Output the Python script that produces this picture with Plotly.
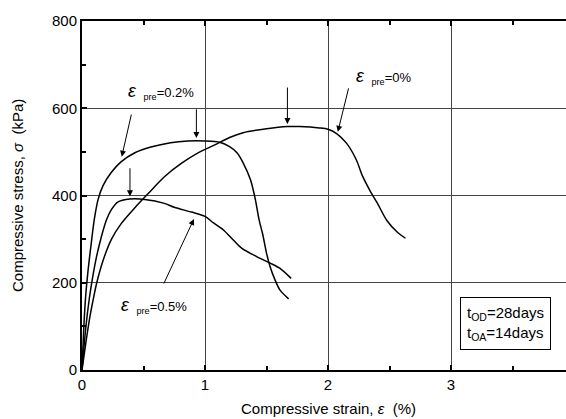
import plotly.graph_objects as go

# Stress-strain curves (strain in %, stress in kPa) for three pre-strain levels
strain_pre0 = [0, 0.03, 0.06, 0.09, 0.12, 0.17, 0.24, 0.32, 0.43, 0.54, 0.67, 0.81, 0.94,
               1.08, 1.20, 1.31, 1.50, 1.67, 1.77, 1.93, 2.0, 2.07, 2.15, 2.23, 2.28, 2.34,
               2.40, 2.48, 2.56, 2.63]
stress_pre0 = [0, 60, 115, 160, 200, 250, 300, 336, 372, 405, 443, 474, 497,
               516, 533, 544, 553, 558, 558, 555, 552, 542, 520, 482, 445, 412,
               383, 342, 317, 302]

strain_pre02 = [0, 0.015, 0.03, 0.05, 0.075, 0.10, 0.13, 0.17, 0.236, 0.317, 0.43, 0.56,
                0.72, 0.86, 1.0, 1.12, 1.20, 1.26, 1.31, 1.37, 1.41, 1.44, 1.47, 1.50,
                1.53, 1.57, 1.61, 1.68]
stress_pre02 = [0, 100, 170, 230, 290, 345, 390, 422, 452, 477, 498, 511,
                521, 525, 525, 522, 512, 498, 475, 436, 390, 344, 310, 268,
                236, 206, 183, 163]

strain_pre05 = [0, 0.03, 0.06, 0.085, 0.12, 0.157, 0.20, 0.24, 0.29, 0.39, 0.51, 0.67,
                0.75, 0.89, 1.0, 1.07, 1.15, 1.23, 1.30, 1.42, 1.53, 1.61, 1.70]
stress_pre05 = [0, 95, 165, 210, 262, 305, 345, 368, 385, 392, 391, 382,
                373, 362, 352, 337, 321, 298, 279, 260, 245, 233, 210]

x_ticks = [0, 1, 2, 3]
y_ticks = [0, 200, 400, 600, 800]

FONT = "Arial, Liberation Sans, sans-serif"

fig = go.Figure()
for xs, ys in [(strain_pre0, stress_pre0), (strain_pre02, stress_pre02), (strain_pre05, stress_pre05)]:
    fig.add_trace(go.Scatter(x=xs, y=ys, mode="lines",
                             line=dict(color="black", width=1.5, shape="spline", smoothing=0.8),
                             hoverinfo="skip", showlegend=False))

ann = []

def label(x, y, pre_text):
    ann.append(dict(x=x, y=y, xref="x", yref="y", xanchor="left", yanchor="middle",
                    showarrow=False,
                    text="<span style='font-size:18px'><i>ε</i></span>"
                         "<sub>\u00a0\u00a0\u00a0pre</sub>" + pre_text,
                    font=dict(family=FONT, size=13, color="black")))

def arrow(x0, y0, x1, y1):
    ann.append(dict(x=x1, y=y1, ax=x0, ay=y0, xref="x", yref="y", axref="x", ayref="y",
                    showarrow=True, text="", arrowhead=2, arrowsize=1.2, arrowwidth=1,
                    arrowcolor="black", standoff=0, startstandoff=0))

label(0.355, 638, "=0.2%")
label(2.21, 672, "=0%")
label(0.30, 149, "=0.5%")

# pointers from labels to curves
arrow(0.404, 589, 0.323, 489)
arrow(2.17, 649, 2.08, 546)
arrow(0.66, 195, 0.91, 346)

# peak markers
arrow(0.93, 601, 0.93, 532)
arrow(0.39, 466, 0.39, 398)
arrow(1.67, 651, 1.67, 564)

ann.append(dict(x=3.44, y=106, xref="x", yref="y", showarrow=False,
                text="t<sub>OD</sub>=28days<br>t<sub>OA</sub>=14days",
                font=dict(family=FONT, size=15, color="black"),
                bordercolor="black", borderwidth=1, borderpad=6, bgcolor="white",
                align="left"))

ann.append(dict(x=2.0, y=-0.11, xref="x", yref="paper", showarrow=False,
                text="Compressive strain, <i>ε</i>\u00a0\u00a0(%)", yanchor="middle",
                font=dict(family=FONT, size=15, color="black")))
ann.append(dict(x=-0.155, y=0.5, xref="paper", yref="paper", showarrow=False,
                text="Compressive stress, <i>σ</i>\u00a0\u00a0(kPa)", textangle=-90,
                font=dict(family=FONT, size=15, color="black")))

fig.update_layout(
    width=566, height=419,
    margin=dict(l=82, r=0, t=21, b=49),
    paper_bgcolor="white", plot_bgcolor="white",
    annotations=ann,
    xaxis=dict(range=[0, 3.935], tickvals=x_ticks, ticks="inside", ticklen=5, tickwidth=2,
               tickcolor="black", showline=True, linecolor="black", linewidth=2,
               mirror="ticks", showgrid=True, gridcolor="#444", gridwidth=1,
               zeroline=False, tickfont=dict(family=FONT, size=15, color="black"),
               minor=dict(dtick=0.5, ticks="inside", ticklen=4, tickwidth=2,
                          tickcolor="black", showgrid=False)),
    yaxis=dict(range=[0, 800], tickvals=y_ticks, ticks="inside", ticklen=5, tickwidth=2,
               tickcolor="black", showline=True, linecolor="black", linewidth=2,
               mirror=False, showgrid=True, gridcolor="#444", gridwidth=1,
               zeroline=False, tickfont=dict(family=FONT, size=15, color="black"),
               minor=dict(dtick=100, ticks="inside", ticklen=4, tickwidth=2,
                          tickcolor="black", showgrid=False)),
)

fig.write_html("out.html")
